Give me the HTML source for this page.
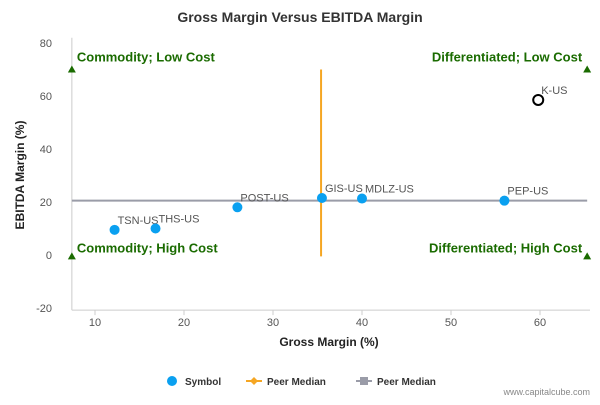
<!DOCTYPE html>
<html><head><meta charset="utf-8"><style>
body{margin:0;background:#fff;font-family:"Liberation Sans",sans-serif}
svg text{font-family:"Liberation Sans",sans-serif}
</style></head><body>
<svg id="c" width="600" height="400" xmlns="http://www.w3.org/2000/svg">
<rect width="600" height="400" fill="#fff"/>
<text x="300" y="22" text-anchor="middle" font-size="14" font-weight="bold" fill="#333">Gross Margin Versus EBITDA Margin</text>
<g id="grid"></g><g id="marks"></g>
<text x="329" y="346" text-anchor="middle" font-size="12" font-weight="bold" fill="#222">Gross Margin (%)</text>
<text transform="translate(24,175) rotate(-90)" text-anchor="middle" font-size="12" font-weight="bold" fill="#222">EBITDA Margin (%)</text>
<g>
<g><circle cx="172" cy="381" r="5" fill="#0aa0f0"/><text x="185" y="385" font-size="10" font-weight="bold" fill="#333">Symbol</text></g>
<g><line x1="246" y1="381" x2="262" y2="381" stroke="#f5a623" stroke-width="2"/><path d="M254 377 L258 381 L254 385 L250 381Z" fill="#f5a623"/><text x="267" y="385" font-size="10" font-weight="bold" fill="#333">Peer Median</text></g>
<g><line x1="356" y1="381" x2="372" y2="381" stroke="#9a9ca8" stroke-width="2"/><rect x="360" y="377" width="8" height="8" fill="#9a9ca8"/><text x="377" y="385" font-size="10" font-weight="bold" fill="#333">Peer Median</text></g>
</g>
<text x="590" y="395" text-anchor="end" font-size="9" fill="#888">www.capitalcube.com</text>
</svg>
<script>
const names=["TSN-US","THS-US","POST-US","GIS-US","MDLZ-US","PEP-US","K-US"];
const gross=[12.2,16.8,26,35.5,40,56,59.8];
const ebitda=[9.5,10,18,21.5,21.3,20.5,58.5];
const xTicks=[10,20,30,40,50,60];
const yTicks=[-20,0,20,40,60,80];
const medianX=35.4, medianY=20.5;
const xMin=7.4,xMax=65.3;
const X=v=>6+v*8.9, Y=v=>255-v*2.65;
const NS="http://www.w3.org/2000/svg";
function mk(p,t,a){const e=document.createElementNS(NS,t);for(const k in a)e.setAttribute(k,a[k]);p.appendChild(e);return e;}
const g=document.getElementById('grid'),m=document.getElementById('marks');
const base=Y(-20.8);
mk(g,'line',{x1:X(xMin),y1:base,x2:X(xMin),y2:Y(82),stroke:'#ccc'});
mk(g,'line',{x1:X(xMin),y1:base,x2:590,y2:base,stroke:'#ccc'});
yTicks.forEach(t=>{const e=mk(g,'text',{x:52,y:Y(t)+4,'text-anchor':'end','font-size':11,fill:'#555'});e.textContent=t;

});
xTicks.forEach(t=>{mk(g,'line',{x1:X(t),y1:base,x2:X(t),y2:base+5,stroke:'#ccc'});const e=mk(g,'text',{x:X(t),y:base+16,'text-anchor':'middle','font-size':11,fill:'#555'});e.textContent=t;

});
let l=mk(m,'line',{x1:X(xMin),y1:Y(medianY),x2:X(xMax),y2:Y(medianY),stroke:'#9a9ca8','stroke-width':2});


l=mk(m,'line',{x1:X(medianX),y1:Y(70),x2:X(medianX),y2:Y(-0.5),stroke:'#f5a623','stroke-width':2});


[[xMin,70],[xMax,70],[xMin,-0.5],[xMax,-0.5]].forEach(p=>{const t=mk(m,'path',{d:`M${X(p[0])} ${Y(p[1])-4} l4 7 h-8z`,fill:'#1a6b00'});

});
[["Commodity; Low Cost",X(xMin)+5,Y(70)-8,'start'],["Differentiated; Low Cost",X(xMax)-5,Y(70)-8,'end'],["Commodity; High Cost",X(xMin)+5,Y(-0.5)-4,'start'],["Differentiated; High Cost",X(xMax)-5,Y(-0.5)-4,'end']].forEach(q=>{const e=mk(m,'text',{x:q[1],y:q[2],'text-anchor':q[3],'font-size':13,'font-weight':'bold',fill:'#1a6b00'});e.textContent=q[0];

});
names.forEach((n,i)=>{const hollow=n==="K-US";const c=mk(m,'circle',{cx:X(gross[i]),cy:Y(ebitda[i]),r:5,fill:hollow?'#fff':'#0aa0f0',stroke:hollow?'#000':'none','stroke-width':2});


const t=mk(m,'text',{x:X(gross[i])+3,y:Y(ebitda[i])-6,'font-size':11,fill:'#555'});t.textContent=n;

});
</script>
</body></html>
